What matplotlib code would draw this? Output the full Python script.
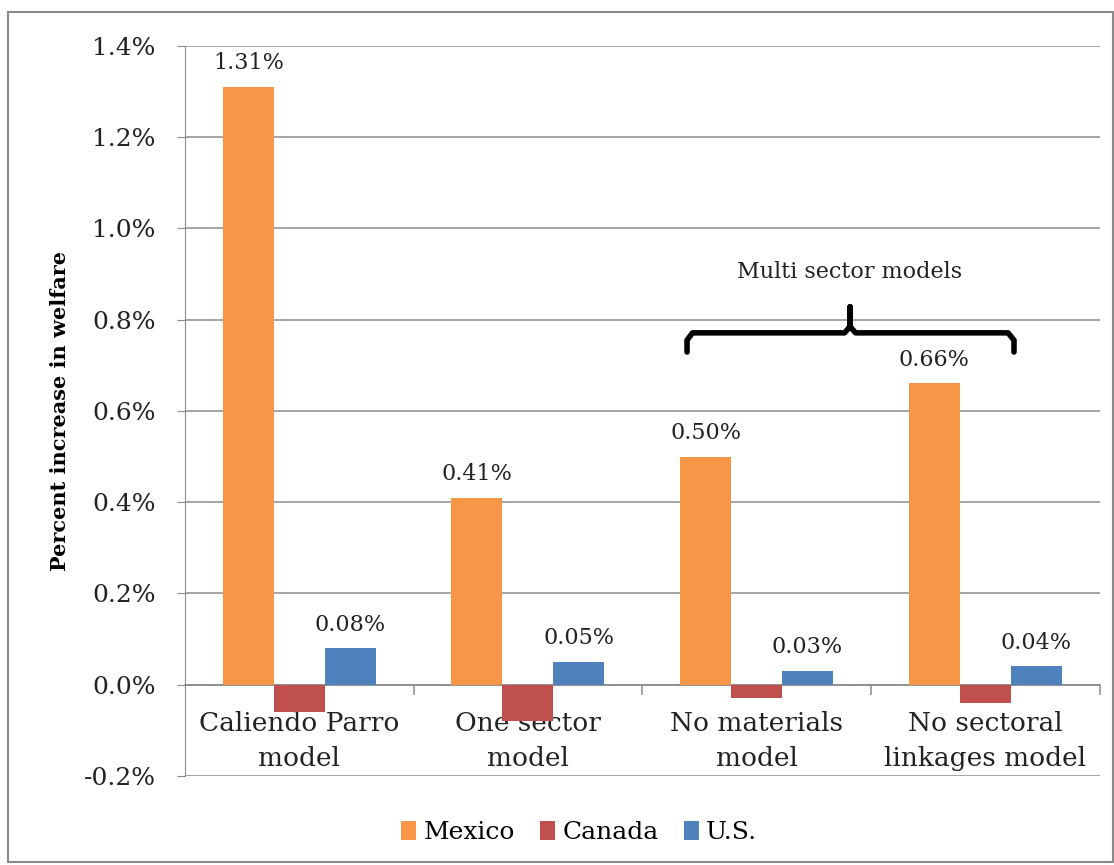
import matplotlib.pyplot as plt
import numpy as np
from matplotlib.patches import Rectangle
from matplotlib.ticker import FuncFormatter, FixedLocator

plt.rcParams['font.family'] = ['DejaVu Serif']

categories = ["Caliendo Parro\nmodel", "One sector\nmodel", "No materials\nmodel", "No sectoral\nlinkages model"]
mexico = [1.31, 0.41, 0.50, 0.66]
canada = [-0.06, -0.08, -0.03, -0.04]
us = [0.08, 0.05, 0.03, 0.04]
series_names = ["Mexico", "Canada", "U.S."]
colors = ["#F79646", "#C0504D", "#4F81BD"]
yticks = [-0.2, 0.0, 0.2, 0.4, 0.6, 0.8, 1.0, 1.2, 1.4]


def plot_bars():
    fig = plt.figure(figsize=(11.14, 8.65), dpi=100)
    ax = fig.add_axes([0.166, 0.103, 0.821, 0.844])

    # outer frame around the whole chart
    fig.patches.append(Rectangle((8 / 1114, 3 / 865), 1 - 9 / 1114, 1 - 15 / 865,
                                 transform=fig.transFigure, fill=False,
                                 edgecolor="#8a8a8a", linewidth=1.5))

    x = np.arange(len(categories))
    w = 0.223
    all_series = [mexico, canada, us]
    for k, (vals, name, c) in enumerate(zip(all_series, series_names, colors)):
        bars = ax.bar(x + (k - 1) * w, vals, width=w, color=c, label=name, zorder=3)
        if name != "Canada":
            for b, v in zip(bars, vals):
                ax.annotate(f"{v:.2f}%", (b.get_x() + b.get_width() / 2, v),
                            xytext=(0, 9), textcoords="offset points",
                            ha="center", va="bottom", fontsize=16, color="#222222")

    ax.set_xlim(-0.5, 3.5)
    ax.set_ylim(-0.2, 1.4)
    ax.set_yticks(yticks)
    ax.yaxis.set_major_formatter(FuncFormatter(lambda v, p: f"{v:.1f}%"))
    ax.yaxis.grid(True, color="#8c8c8c", linewidth=1.1, zorder=0)
    ax.tick_params(axis="y", labelsize=18, length=6, color="#8c8c8c", pad=15,
                   labelcolor="#222222")

    ax.spines["top"].set_visible(False)
    ax.spines["right"].set_visible(False)
    ax.spines["left"].set_color("#8c8c8c")
    ax.spines["bottom"].set_position(("data", 0))
    ax.spines["bottom"].set_color("#8c8c8c")
    ax.spines["bottom"].set_linewidth(1.1)

    ax.set_xticks(x)
    ax.set_xticklabels(categories, fontsize=19, linespacing=1.5, color="#222222")
    ax.tick_params(axis="x", which="major", length=0, pad=19)
    ax.xaxis.set_minor_locator(FixedLocator([0.5, 1.5, 2.5, 3.5]))
    ax.tick_params(axis="x", which="minor", length=7, color="#8c8c8c", width=1.1)

    ax.set_ylabel("Percent increase in welfare", fontsize=15, fontweight="bold",
                  labelpad=10)

    # bracket over the multi sector models
    ax.plot([1.696, 1.696, 1.72, 2.385, 2.409, 2.409, 2.409, 2.433, 3.10, 3.126, 3.126],
            [0.729, 0.755, 0.771, 0.771, 0.785, 0.828, 0.785, 0.771, 0.771, 0.755, 0.729],
            color="black", linewidth=4, solid_joinstyle="round",
            solid_capstyle="round", zorder=4, clip_on=False)
    ax.text(2.409, 0.905, "Multi sector models", ha="center", va="center",
            fontsize=16, color="#222222")

    fig.legend(loc="center", bbox_to_anchor=(0.52, 0.038), ncol=3, frameon=False,
               fontsize=18, handlelength=0.6, handleheight=0.8, handletextpad=0.3,
               columnspacing=1.0)

    fig.savefig("out.png", dpi=100)


if __name__ == "__main__":
    plot_bars()
